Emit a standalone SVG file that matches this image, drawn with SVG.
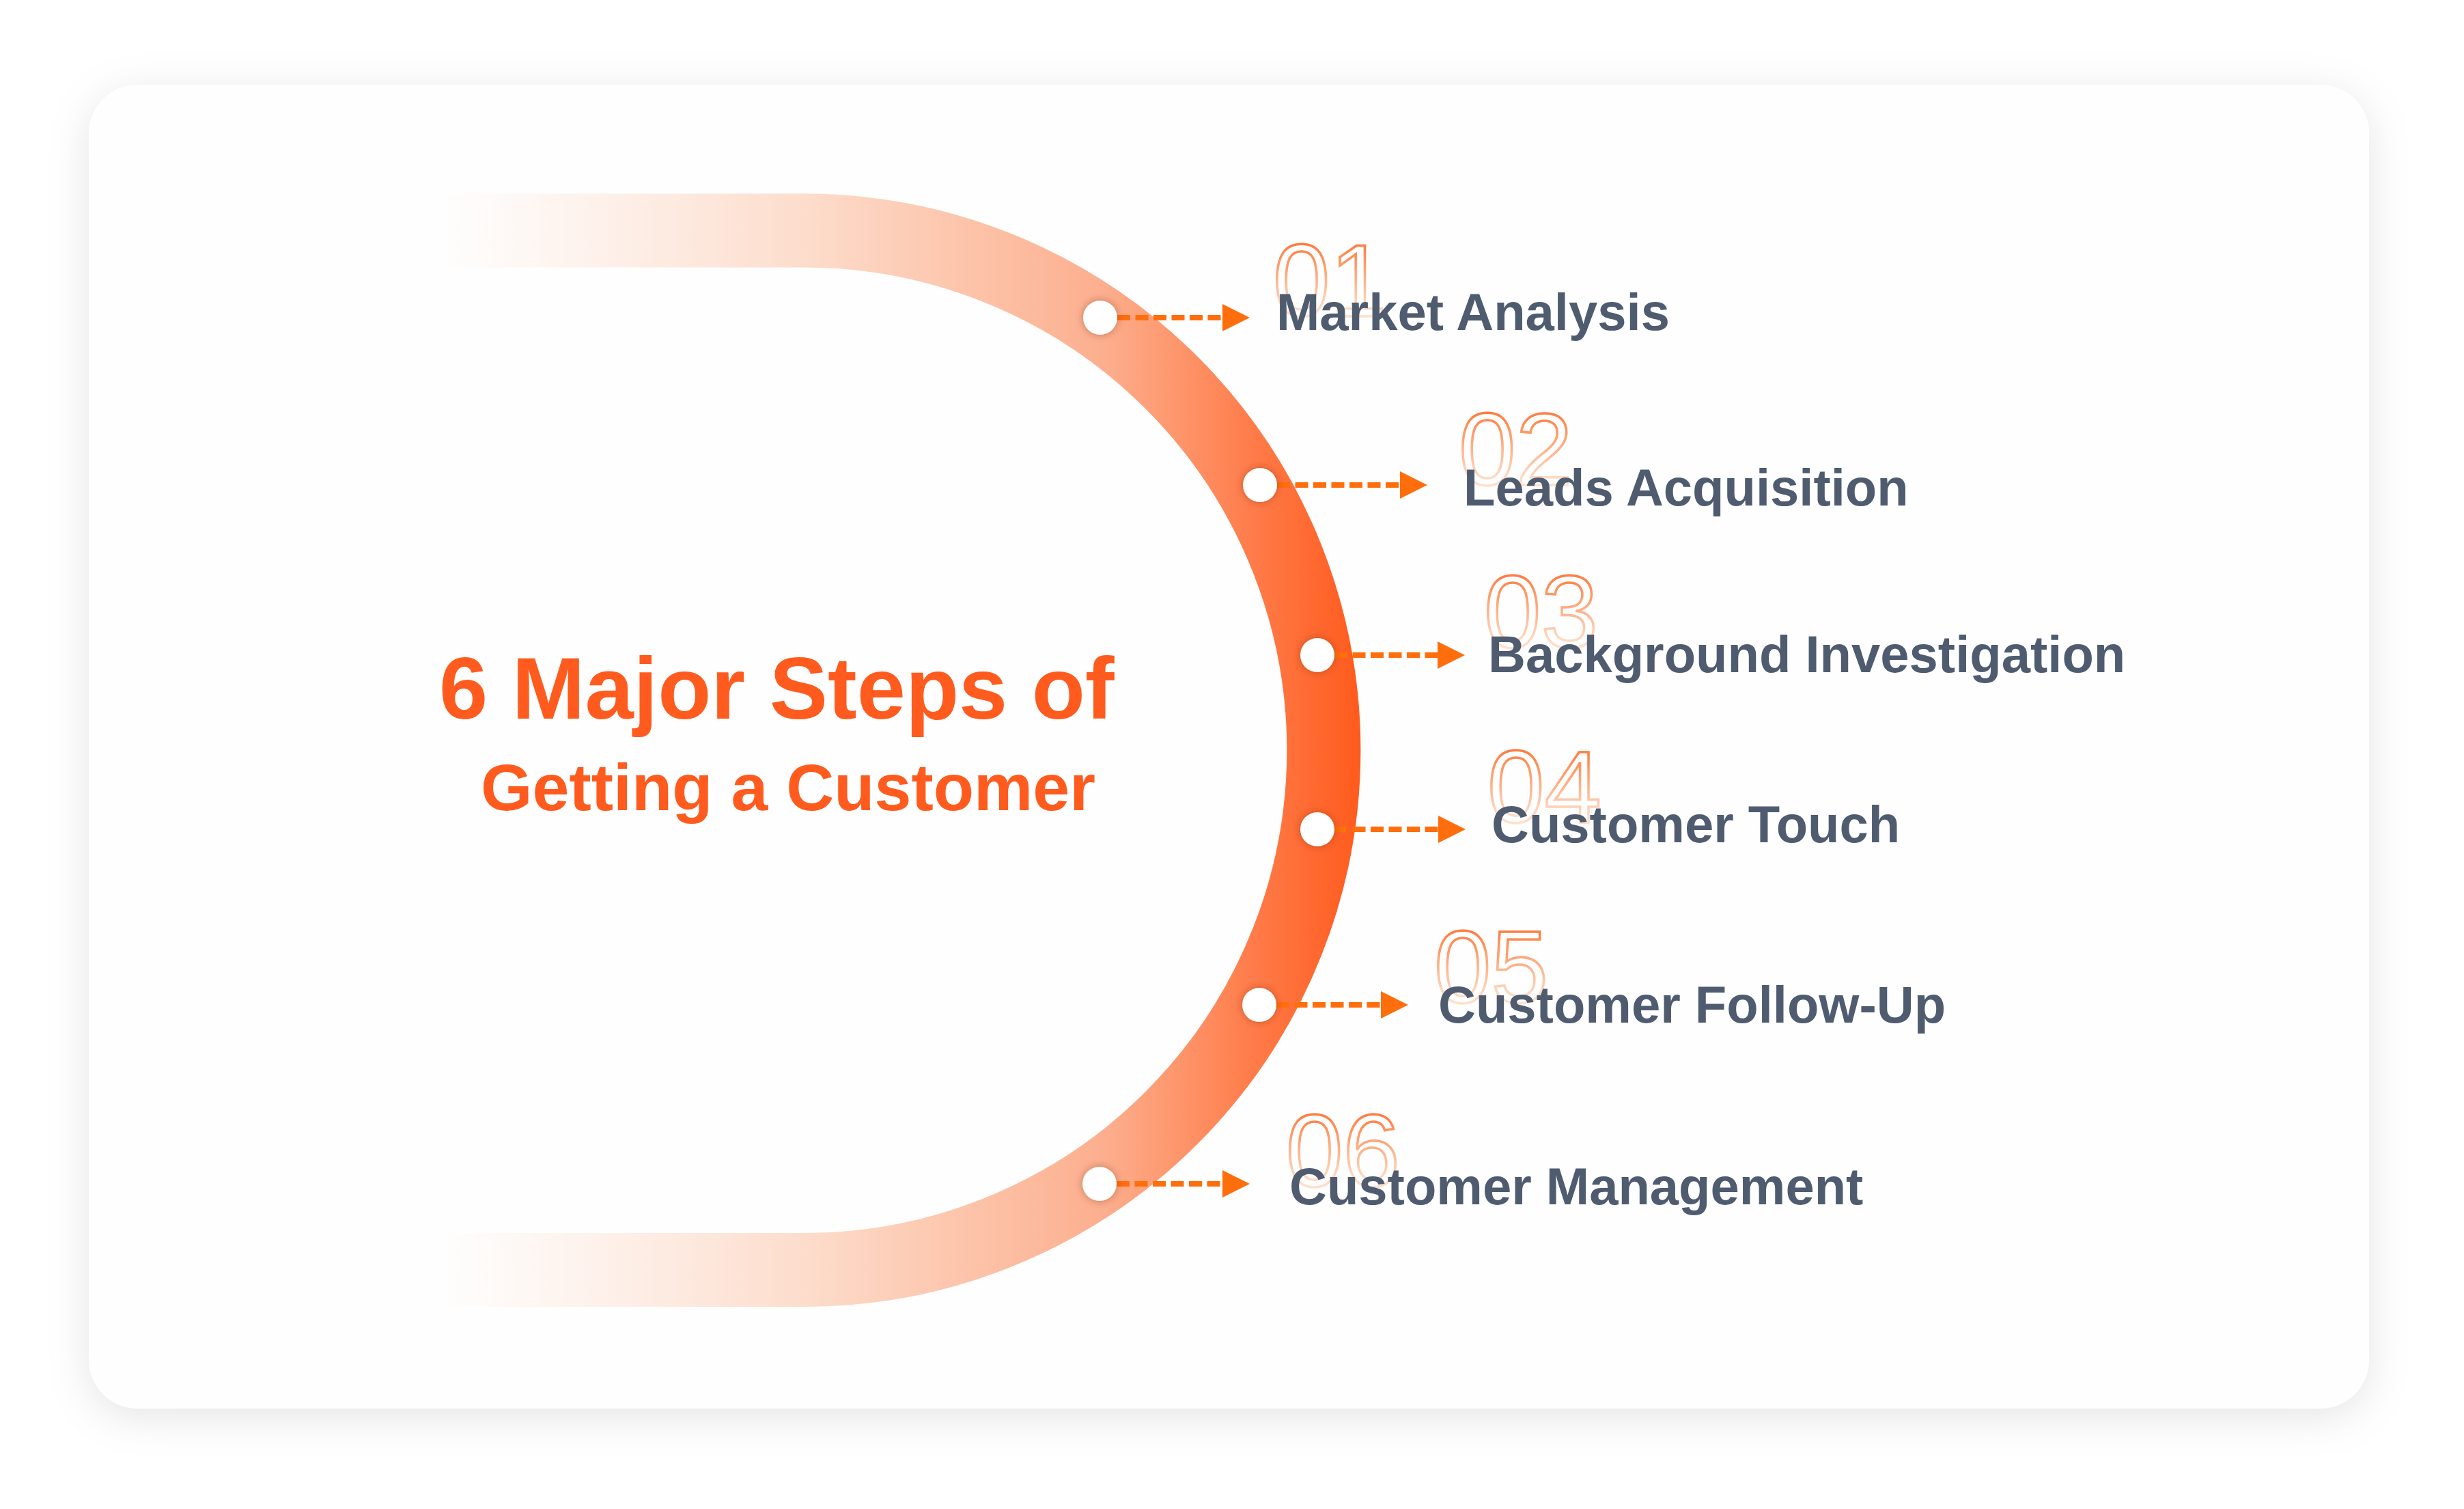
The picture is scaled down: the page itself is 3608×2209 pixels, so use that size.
<svg xmlns="http://www.w3.org/2000/svg" width="3608" height="2209" viewBox="0 0 3608 2209">
<defs>
<filter id="cardShadow" x="-10%" y="-10%" width="120%" height="120%">
<feDropShadow dx="0" dy="12" stdDeviation="30" flood-color="#000" flood-opacity="0.10"/>
</filter>
<filter id="dotShadow" x="-80%" y="-80%" width="260%" height="260%">
<feDropShadow dx="0" dy="0" stdDeviation="6" flood-color="#7a2a00" flood-opacity="0.45"/>
</filter>
<linearGradient id="bandGrad" gradientUnits="userSpaceOnUse" x1="640" y1="0" x2="1995" y2="0">
<stop offset="0" stop-color="#FDE3D6" stop-opacity="0"/>
<stop offset="0.4" stop-color="#FDDCCB" stop-opacity="1"/>
<stop offset="0.72" stop-color="#FCAF8E"/>
<stop offset="0.88" stop-color="#FF7C4A"/>
<stop offset="1" stop-color="#FF5A1C"/>
</linearGradient>
<linearGradient id="numGrad" x1="0" y1="0" x2="0" y2="1">
<stop offset="0" stop-color="#FF5A1A"/>
<stop offset="0.35" stop-color="#FF9A66"/>
<stop offset="0.7" stop-color="#FDD5BC"/>
<stop offset="1" stop-color="#FFF3EA"/>
</linearGradient>
<marker id="arrow" markerUnits="userSpaceOnUse" markerWidth="40" markerHeight="40" refX="0" refY="20" orient="auto" overflow="visible">
<path d="M0,0 L40,20 L0,40 Z" fill="#FF6E0C"/>
</marker>
<style>
.dot{fill:#FFFFFF;filter:url(#dotShadow);}
.conn{stroke:#FF6E0C;stroke-width:8;stroke-dasharray:19 7.5;fill:none;marker-end:url(#arrow);}
.num{font-family:"Liberation Sans",Arial,sans-serif;font-size:150px;fill:none;stroke:url(#numGrad);stroke-width:3.5;}
.label{font-family:"Liberation Sans",Arial,sans-serif;font-size:76px;font-weight:bold;fill:#4F5C70;}
.title{font-family:"Liberation Sans",Arial,sans-serif;font-weight:bold;fill:#FF5B1E;}
</style>
</defs>
<rect x="0" y="0" width="3608" height="2209" fill="#FFFFFF"/>
<rect x="130" y="124" width="3339" height="1938" rx="72" ry="72" fill="#FEFEFE" filter="url(#cardShadow)"/>
<g id="band">
<path d="M640,337.5 H1178 A760.5 760.5 0 0 1 1178 1859 H640" fill="none" stroke="url(#bandGrad)" stroke-width="108"/>
</g>
<g id="title">
<text class="title" x="643" y="1052" font-size="128">6 Major Steps of</text>
<text class="title" x="704" y="1186" font-size="97">Getting a Customer</text>
</g>
<g id="connectors">
<line class="conn" x1="1636" y1="465" x2="1790" y2="465"/>
<line class="conn" x1="1870" y1="710" x2="2050" y2="710"/>
<line class="conn" x1="1954" y1="959" x2="2105" y2="959"/>
<line class="conn" x1="1954" y1="1214" x2="2106" y2="1214"/>
<line class="conn" x1="1869" y1="1471" x2="2022" y2="1471"/>
<line class="conn" x1="1635" y1="1733" x2="1790" y2="1733"/>
</g>
<g id="step1">
<circle class="dot" cx="1611" cy="465" r="25"/>
<text class="num" x="1864" y="463">01</text>
<text class="label" x="1869" y="483">Market Analysis</text>
</g>
<g id="step2">
<circle class="dot" cx="1845" cy="710" r="25"/>
<text class="num" x="2136" y="710">02</text>
<text class="label" x="2143" y="740">Leads Acquisition</text>
</g>
<g id="step3">
<circle class="dot" cx="1929" cy="959" r="25"/>
<text class="num" x="2173" y="948">03</text>
<text class="label" x="2179" y="984">Background Investigation</text>
</g>
<g id="step4">
<circle class="dot" cx="1929" cy="1214" r="25"/>
<text class="num" x="2178" y="1204">04</text>
<text class="label" x="2184" y="1233">Customer Touch</text>
</g>
<g id="step5">
<circle class="dot" cx="1844" cy="1471" r="25"/>
<text class="num" x="2100" y="1468">05</text>
<text class="label" x="2106" y="1497">Customer Follow-Up</text>
</g>
<g id="step6">
<circle class="dot" cx="1610" cy="1733" r="25"/>
<text class="num" x="1883" y="1737">06</text>
<text class="label" x="1888" y="1763">Customer Management</text>
</g>
</svg>
